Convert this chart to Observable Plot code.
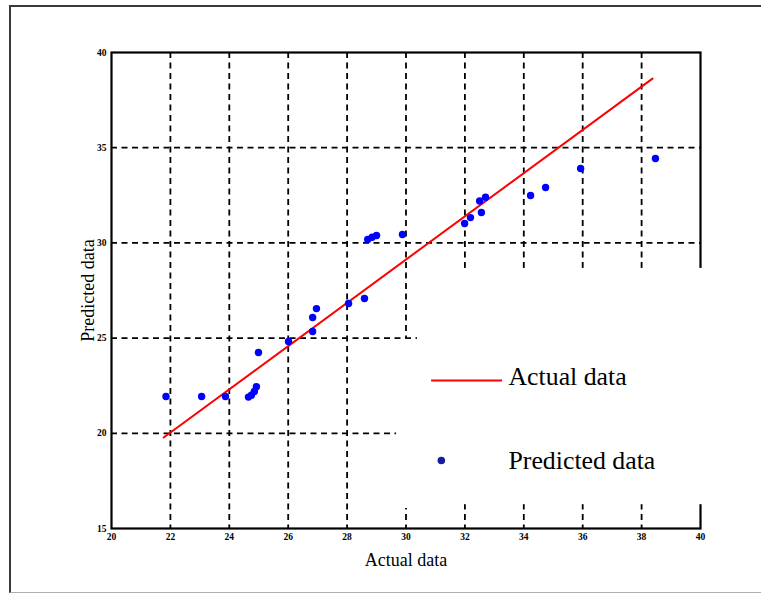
<!DOCTYPE html>
<html><head><meta charset="utf-8">
<script src="https://cdn.jsdelivr.net/npm/d3@7"></script>
<script src="https://cdn.jsdelivr.net/npm/@observablehq/plot@0.6"></script>
<style>
html,body{margin:0;padding:0;background:#fff;}
#wrap{position:relative;width:761px;height:594px;overflow:hidden;}
#border{position:absolute;left:9px;top:5px;width:800px;height:585px;border-left:2px solid #3a3a3a;border-top:2px solid #3a3a3a;border-bottom:1px solid #b0b0b0;pointer-events:none;z-index:2;}
#chart{position:absolute;left:0;top:0;}
</style></head><body><div id="wrap"><div id="chart"></div><div id="border"></div></div>
<script>
// Actual (x) and predicted (y) values
const actual    = [21.85, 23.06, 23.87, 24.65, 24.75, 24.85, 24.92, 24.99, 26.01, 26.83, 26.83, 26.96, 28.05, 28.59, 28.70, 28.85, 29.00, 29.88, 31.99, 32.19, 32.56, 32.50, 32.70, 34.23, 34.74, 35.93, 38.47];
const predicted = [21.93, 21.93, 21.93, 21.90, 22.00, 22.20, 22.45, 24.24, 24.82, 25.35, 26.08, 26.55, 26.82, 27.08, 30.18, 30.30, 30.39, 30.44, 31.02, 31.33, 31.60, 32.20, 32.40, 32.49, 32.91, 33.91, 34.43];
// Red "Actual data" line endpoints
const lineX = [21.77, 38.37];
const lineY = [19.78, 38.63];
const xTicks = [20, 22, 24, 26, 28, 30, 32, 34, 36, 38, 40];
const yTicks = [15, 20, 25, 30, 35, 40];
const gridX = [22, 24, 26, 28, 30, 32, 34, 36, 38];
const gridY = [20, 25, 30, 35];
const legendLabels = ["Actual data", "Predicted data"];
const xLabel = "Actual data";
const yLabel = "Predicted data";

const pts = actual.map((x, i) => ({x, y: predicted[i]}));
const linePts = lineX.map((x, i) => ({x, y: lineY[i]}));
const font = "'Liberation Serif', 'Times New Roman', serif";
const dash = {stroke: "black", strokeWidth: 1.8, strokeDasharray: "6,4.5"};

const plot = Plot.plot({
  width: 761, height: 594,
  marginLeft: 111, marginRight: 61, marginTop: 52, marginBottom: 66,
  x: {domain: [20, 40]},
  y: {domain: [15, 40]},
  style: {background: "transparent", fontFamily: font, color: "black"},
  marks: [
    Plot.ruleX(gridX, dash),
    Plot.ruleY(gridY, dash),
    Plot.frame({stroke: "black", strokeWidth: 2.2}),
    Plot.line(linePts, {x: "x", y: "y", stroke: "#ff0000", strokeWidth: 2}),
    Plot.dot(pts, {x: "x", y: "y", r: 3.7, fill: "#0000ff", stroke: "none"}),
    // legend background box
    Plot.rect([{x1: 30.39, x2: 40.2, y1: 16.25, y2: 28.66}, {x1: 29.68, x2: 30.42, y1: 16.05, y2: 24.93}],
      {x1: "x1", x2: "x2", y1: "y1", y2: "y2", fill: "white", stroke: "none"}),
    Plot.ruleY([22.77], {x1: 30.87, x2: 33.28, stroke: "#ff0000", strokeWidth: 2}),
    Plot.dot([0], {x: 31.2, y: 18.57, r: 3.8, fill: "#1a1a9c", stroke: "none"}),
    Plot.text([legendLabels[0]], {x: 33.48, y: 22.56, text: d => d, textAnchor: "start", lineAnchor: "bottom", fontSize: 25.8, fill: "black"}),
    Plot.text([legendLabels[1]], {x: 33.48, y: 18.15, text: d => d, textAnchor: "start", lineAnchor: "bottom", fontSize: 25.8, fill: "black"}),
    Plot.axisX(xTicks, {tickSize: 0, tickPadding: 5, fontSize: 9.5, fontWeight: "bold", label: null}),
    Plot.axisY(yTicks, {tickSize: 0, tickPadding: 5, fontSize: 9.5, fontWeight: "bold", label: null}),
    Plot.text([xLabel], {text: d => d, frameAnchor: "bottom", dy: 32, textAnchor: "middle", lineAnchor: "middle", fontSize: 18, fill: "black"}),
    Plot.text([yLabel], {text: d => d, frameAnchor: "left", dx: -23, rotate: -90, textAnchor: "middle", lineAnchor: "middle", fontSize: 18, fill: "black"})
  ]
});
document.getElementById("chart").appendChild(plot);
</script>
</body></html>
